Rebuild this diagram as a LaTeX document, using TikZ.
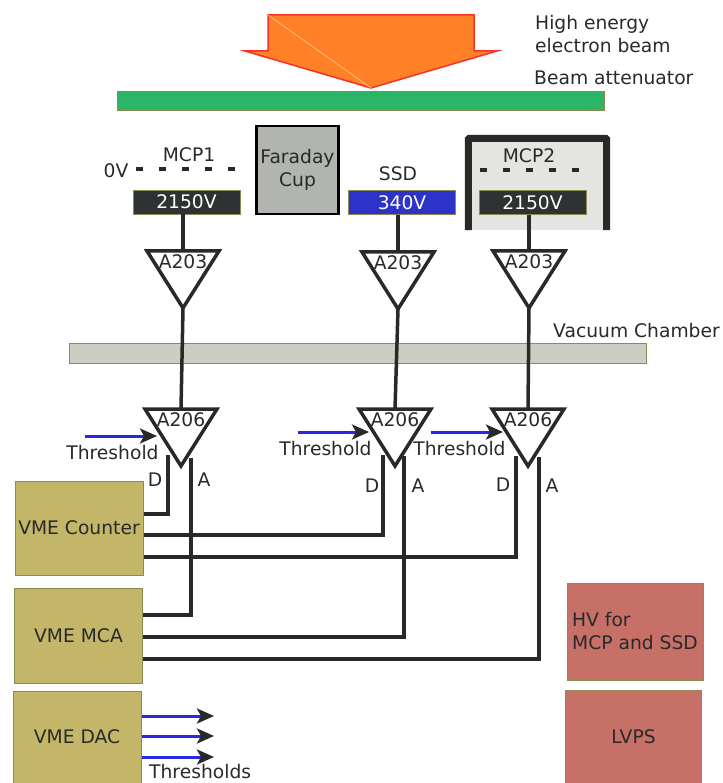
\documentclass[tikz,border=0pt]{standalone}
\usepackage{fontspec}
\setmainfont{DejaVu Sans}
\usepackage{xcolor}
\definecolor{beamorange}{RGB}{255,128,38}
\definecolor{beamred}{RGB}{245,50,40}
\definecolor{attgreen}{RGB}{43,182,103}
\definecolor{inkdark}{RGB}{40,42,42}
\definecolor{hvdark}{RGB}{47,50,50}
\definecolor{ssdblue}{RGB}{45,50,200}
\definecolor{wireblue}{RGB}{40,40,225}
\definecolor{cupgray}{RGB}{178,180,175}
\definecolor{mcpgray}{RGB}{228,228,225}
\definecolor{chambergray}{RGB}{205,205,195}
\definecolor{vmeolive}{RGB}{196,182,104}
\definecolor{vmeedge}{RGB}{140,140,80}
\definecolor{psured}{RGB}{198,112,104}
\usepackage{tikz}
\usetikzlibrary{shapes.geometric,arrows.meta,positioning}
\begin{document}
\begin{tikzpicture}[
  x=1pt,y=-1pt,
  txt/.style={font=\fontsize{18.7}{23}\selectfont,text=inkdark,inner sep=0pt,align=center},
  hvbox/.style={rectangle,fill=hvdark,draw=vmeedge,line width=0.5pt,minimum width=107pt,
    minimum height=24pt,inner sep=0pt,text=white,font=\fontsize{18.7}{23}\selectfont},
  amp/.style={isosceles triangle,isosceles triangle stretches,shape border rotate=270,
    draw=inkdark,line width=3.5pt,fill=white,minimum width=72pt,minimum height=57pt,
    inner sep=0pt,outer sep=0pt,anchor=apex,line join=miter},
  wire/.style={draw=inkdark,line width=3.5pt},
  sigwire/.style={draw=inkdark,line width=3.2pt},
  thr/.style={draw=wireblue,line width=3pt,-{Stealth[inkdark,length=17pt,width=15pt,inset=4pt]}},
  vme/.style={rectangle,fill=vmeolive,draw=vmeedge,line width=1pt,minimum width=128pt,
    inner sep=0pt,txt},
  psu/.style={rectangle,fill=psured,draw=vmeedge,line width=0.5pt,minimum width=136pt,
    inner sep=0pt,txt},
  dashline/.style={draw=inkdark,line width=4pt,dash pattern=on 7pt off 16pt}
]
  \useasboundingbox (0,0) rectangle (722,783);
  % beam
  \draw[fill=beamorange,draw=beamred,line width=1.5pt,line join=miter]
    (268,15)--(474,15)--(474,51)--(497,51)--(371,88)--(245,51)--(268,51)--cycle;
  \draw[color=orange!40,line width=0.6pt] (268,15)--(371,88);
  \node[rectangle,fill=attgreen,draw=vmeedge,line width=0.5pt,minimum width=487pt,minimum height=19pt,
    inner sep=0pt] (atten) at (360.5,100.5) {};
  \node[txt,anchor=west,align=left] (beamtext) at (535,34.5) {High energy\\electron beam};
  \node[txt,anchor=west] (atttext) at (534,78) {Beam attenuator};
  % detectors
  \node[rectangle,fill=mcpgray,minimum width=138pt,minimum height=91.5pt,inner sep=0pt] (mcpbox) at (537.5,184.25) {};
  \draw[draw=inkdark,line width=7pt,rounded corners=1pt]
    (mcpbox.south west)--(mcpbox.north west)--(mcpbox.north east)--(mcpbox.south east);
  \node[rectangle,fill=cupgray,draw=black,line width=2.5pt,minimum width=82pt,minimum height=88pt,
    inner sep=0pt,txt] (cup) at (297.5,170) {Faraday\\Cup};
  \node[hvbox] (hva) at (186.5,202) {2150V};
  \node[hvbox,fill=ssdblue] (hvb) at (402,202.5) {340V};
  \node[hvbox] (hvc) at (532.5,202.5) {2150V};
  \draw[dashline] (136,169)--(240,169);
  \draw[dashline] (480,170)--(584,170);
  \node[txt] (zero) at (116,171) {0V};
  \node[txt] (mcpa) at (189,155) {MCP1};
  \node[txt] (ssd) at (398,174) {SSD};
  \node[txt] (mcpb) at (529,156) {MCP2};
  % preamps
  \node[amp] (pa) at (183,308) {};
  \node[amp] (pb) at (398,309) {};
  \node[amp] (pc) at (529,308) {};
  \node[txt,below=3pt of pa.north] (pat) {A203};
  \node[txt,below=3pt of pb.north] (pbt) {A203};
  \node[txt,below=3pt of pc.north] (pct) {A203};
  \node[rectangle,fill=chambergray,draw=vmeedge,line width=0.5pt,minimum width=577pt,minimum height=20pt,
    inner sep=0pt] (chamber) at (357.5,353) {};
  \node[txt,anchor=west] (chambertext) at (553,331) {Vacuum Chamber};
  % discriminators
  \node[amp] (da) at (181,466) {};
  \node[amp] (db) at (395,466) {};
  \node[amp] (dc) at (528,466) {};
  \node[txt,below=3pt of da.north] (dat) {A206};
  \node[txt,below=3pt of db.north] (dbt) {A206};
  \node[txt,below=3pt of dc.north] (dct) {A206};
  \draw[wire] (hva.south -| pa.north)--(pa.north);
  \draw[wire] (hvb.south -| pb.north)--(pb.north);
  \draw[wire] (hvc.south -| pc.north)--(pc.north);
  \draw[wire] (pa.south)--(da.north);
  \draw[wire] (pb.south)--(db.north);
  \draw[wire] (pc.south)--(dc.north);
  % thresholds
  \coordinate (tas) at (85,436);
  \coordinate (tae) at (157,436);
  \coordinate (tbs) at (298,432);
  \coordinate (tbe) at (369,432);
  \coordinate (tcs) at (431,432);
  \coordinate (tce) at (503,432);
  \draw[thr] (tas)--(tae);
  \draw[thr] (tbs)--(tbe);
  \draw[thr] (tcs)--(tce);
  \node[txt] (tat) at (112.5,453) {Threshold};
  \node[txt] (tbt) at (325.5,449) {Threshold};
  \node[txt] (tct) at (459.5,449) {Threshold};
  % vme crates
  \node[vme,minimum height=94pt] (counter) at (79,528) {VME Counter};
  \node[vme,minimum height=95pt] (mca) at (78.5,635.5) {VME MCA};
  \node[vme,minimum height=92pt] (dac) at (77,737) {VME DAC};
  \node[psu,minimum height=97pt,align=left] (hv) at (635,631.5) {HV for\\MCP and SSD};
  \node[psu,minimum height=93pt] (lv) at (633.5,736.5) {LVPS};
  % outputs
  \coordinate (oda) at (168,455);
  \coordinate (oaa) at (191,458);
  \coordinate (odb) at (383,455);
  \coordinate (oab) at (404,456);
  \coordinate (odc) at (516,456);
  \coordinate (oac) at (539,457);
  \draw[sigwire] (oda) |- (counter.east |- 0,514);
  \draw[sigwire] (odb) |- (counter.east |- 0,535);
  \draw[sigwire] (odc) |- (counter.east |- 0,557);
  \draw[sigwire] (oaa) |- (mca.east |- 0,615);
  \draw[sigwire] (oab) |- (mca.east |- 0,637);
  \draw[sigwire] (oac) |- (mca.east |- 0,659);
  \node[txt] (lda) at (155,480) {D};
  \node[txt] (laa) at (204,480) {A};
  \node[txt] (ldb) at (372,486) {D};
  \node[txt] (lab) at (418,486) {A};
  \node[txt] (ldc) at (503,485) {D};
  \node[txt] (lac) at (552,486) {A};
  % dac outputs
  \coordinate (ta) at (214,716);
  \coordinate (tb) at (214,736);
  \coordinate (tc) at (214,757);
  \draw[thr] (dac.east |- ta)--(ta);
  \draw[thr] (dac.east |- tb)--(tb);
  \draw[thr] (dac.east |- tc)--(tc);
  \node[txt,anchor=base west] (tlabel) at (149,778) {Thresholds};
\end{tikzpicture}
\end{document}
